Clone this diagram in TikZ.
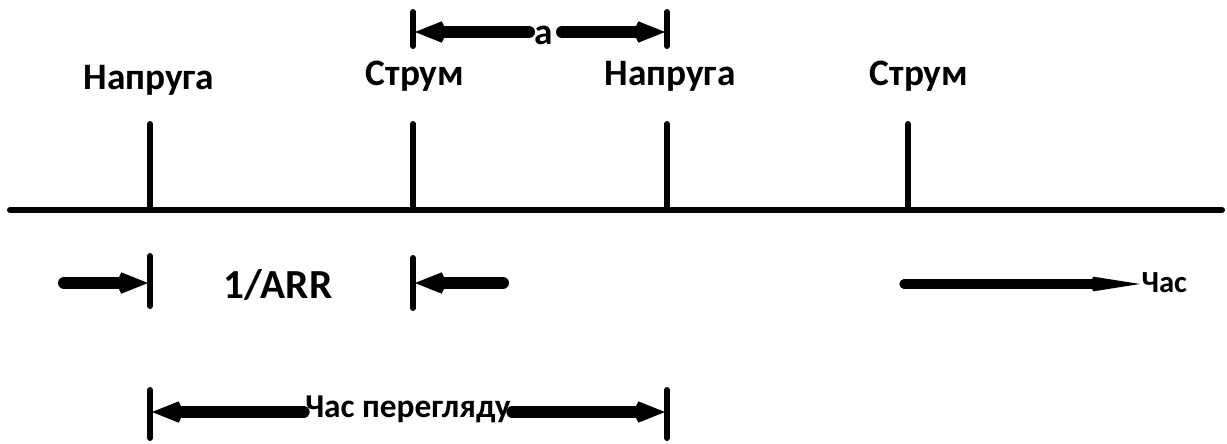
\documentclass[tikz,border=0pt]{standalone}
\usepackage{fontspec}
\setmainfont{Carlito}
\usetikzlibrary{arrows.meta}

\begin{document}
\begin{tikzpicture}[x=0.75pt, y=-0.75pt,
    bar/.style={line width=4.5pt, line cap=round},
    dimarrow/.style={line width=9pt, line cap=round,
      -{Kite[length=24pt, width=16pt, inset=4pt]}},
    thinarrow/.style={line width=7pt, line cap=round,
      -{Kite[length=38pt, width=11pt, inset=3pt]}},
    biglbl/.style={font=\bfseries\fontsize{28}{30}\selectfont, inner sep=0pt},
    arrlbl/.style={font=\bfseries\fontsize{31}{34}\selectfont, inner sep=0pt},
    midlbl/.style={font=\bfseries\fontsize{25}{28}\selectfont, inner sep=1pt},
    smalllbl/.style={font=\bfseries\fontsize{23}{26}\selectfont, inner sep=1pt}]
    \path [use as bounding box]
      (0, 0) rectangle (1227, 443);

    % time axis
    \coordinate (axisL) at (10, 210);
    \coordinate (axisR) at (1222, 210);
    \draw[bar] (axisL) -- (axisR);

    % markers with their labels
    \foreach \name/\xx/\lx/\ly/\txt in {v1/150/149/80/Напруга, c1/413/415/76/Струм,
                                        v2/667/670/76/Напруга, c2/908/919/76/Струм} {
      \coordinate (\name top) at (\xx, 124);
      \coordinate (\name bot) at (\xx, 210);
      \draw[bar] (\name top) -- (\name bot);
      \node[biglbl] (\name lbl) at (\lx, \ly) {\txt};
    }

    % distance a
    \coordinate (aL) at (415, 32);
    \coordinate (aR) at (665, 32);
    \draw[bar] (413, 12) -- (413, 46);
    \draw[bar] (667, 12) -- (667, 46);
    \node[biglbl] (alen) at (544, 35) {a};
    \draw[dimarrow] (529, 32) -- (aL);
    \draw[dimarrow] (562, 32) -- (aR);

    % 1/ARR
    \coordinate (arrL) at (148, 283);
    \coordinate (arrR) at (415, 283);
    \draw[bar] (150, 256) -- (150, 306);
    \draw[bar] (413, 258) -- (413, 308);
    \node[arrlbl] (arr) at (278, 285) {1/ARR};
    \draw[dimarrow] (64, 283) -- (arrL);
    \draw[dimarrow] (503, 283) -- (arrR);

    % time direction
    \node[smalllbl, anchor=west] (time) at (1140, 283) {Час};
    \draw[thinarrow] (904, 284) -- (time.west |- 0, 284);

    % sweep time
    \coordinate (swL) at (152, 412);
    \coordinate (swR) at (665, 412);
    \draw[bar] (150, 390) -- (150, 438);
    \draw[bar] (667, 390) -- (667, 438);
    \node[midlbl] (sweep) at (408, 409) {Час перегляду};
    \draw[dimarrow] (sweep.west |- swL) -- (swL);
    \draw[dimarrow] (sweep.east |- swR) -- (swR);
  \end{tikzpicture}
\end{document}
